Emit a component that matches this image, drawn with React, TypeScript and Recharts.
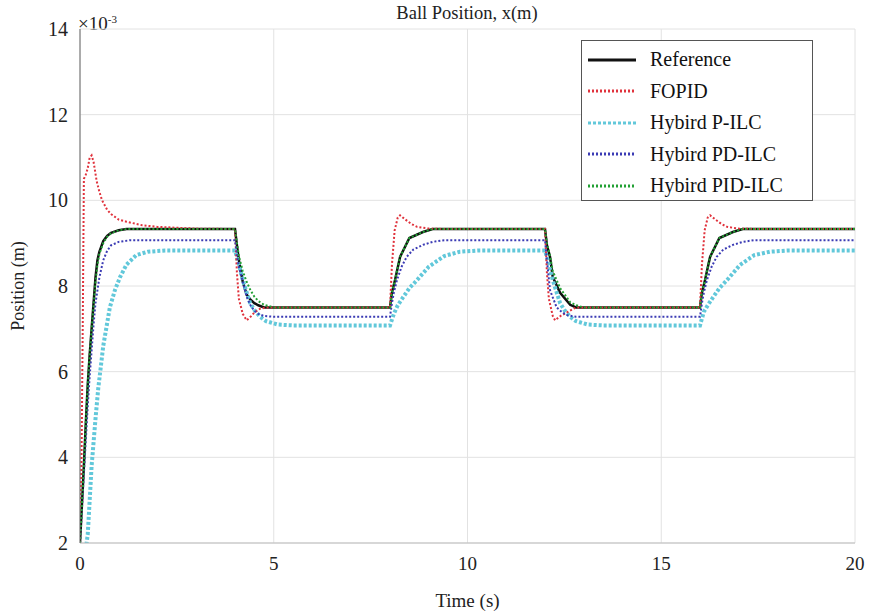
import {
  CartesianGrid,
  Legend,
  Line,
  LineChart,
  XAxis,
  YAxis,
} from "recharts";

const FONT = '"Liberation Serif", "Times New Roman", serif';

// time (s), position (x1e-3 m)
const referencePoints = [
  [0, 2], [0.05, 2.9], [0.1, 3.8], [0.15, 4.8], [0.2, 5.7], [0.25, 6.4], [0.3, 7.0],
  [0.35, 7.6], [0.4, 8.2], [0.45, 8.6], [0.5, 8.8], [0.6, 9.05], [0.7, 9.17], [0.8, 9.24],
  [1.0, 9.3], [1.2, 9.33], [4.0, 9.33], [4.05, 8.95], [4.1, 8.6], [4.2, 8.1], [4.3, 7.8],
  [4.4, 7.68], [4.5, 7.6], [4.6, 7.55], [4.75, 7.5], [8.0, 7.5], [8.05, 7.85], [8.13, 8.14],
  [8.26, 8.68], [8.5, 9.12], [8.85, 9.26], [9.1, 9.33], [12.0, 9.33], [12.05, 8.95],
  [12.13, 8.68], [12.2, 8.21], [12.39, 7.84], [12.65, 7.56], [12.8, 7.5], [16.0, 7.5],
  [16.05, 7.85], [16.13, 8.14], [16.26, 8.68], [16.5, 9.12], [16.85, 9.26], [17.1, 9.33],
  [20, 9.33],
];

const fopidPoints = [
  [0, 2], [0.04, 4], [0.07, 7], [0.1, 10.5], [0.15, 10.6], [0.2, 10.75], [0.25, 11.0],
  [0.3, 11.05], [0.35, 10.9], [0.43, 10.45], [0.5, 10.2], [0.57, 10.0], [0.7, 9.78],
  [0.8, 9.68], [1.0, 9.55], [1.2, 9.5], [1.6, 9.42], [2.0, 9.38], [3.0, 9.34], [4.0, 9.33],
  [4.05, 8.3], [4.1, 7.7], [4.2, 7.35], [4.3, 7.2], [4.4, 7.28], [4.5, 7.38], [4.65, 7.47],
  [4.8, 7.5], [8.0, 7.5], [8.05, 8.5], [8.12, 9.3], [8.2, 9.6], [8.26, 9.65], [8.4, 9.55],
  [8.55, 9.45], [8.7, 9.38], [9.0, 9.34], [9.5, 9.33], [12.0, 9.33], [12.05, 8.3],
  [12.1, 7.7], [12.2, 7.3], [12.26, 7.2], [12.4, 7.3], [12.6, 7.4], [12.8, 7.5], [16.0, 7.5],
  [16.05, 8.5], [16.12, 9.3], [16.2, 9.6], [16.26, 9.65], [16.4, 9.55], [16.55, 9.45],
  [16.7, 9.38], [17.0, 9.34], [17.5, 9.33], [20, 9.33],
];

const pIlcPoints = [
  [0, 0.8], [0.2, 2.2], [0.3, 3.8], [0.4, 4.9], [0.47, 5.6], [0.6, 6.6], [0.77, 7.5],
  [0.9, 7.9], [1.03, 8.2], [1.2, 8.5], [1.45, 8.72], [1.75, 8.8], [2.2, 8.83], [4.0, 8.83],
  [4.1, 8.5], [4.2, 8.14], [4.3, 7.85], [4.39, 7.6], [4.5, 7.44], [4.65, 7.28], [4.8, 7.18],
  [5.1, 7.1], [5.5, 7.08], [8.0, 7.08], [8.1, 7.35], [8.2, 7.55], [8.34, 7.74], [8.5, 7.95],
  [8.7, 8.14], [9.0, 8.45], [9.4, 8.7], [9.8, 8.8], [10.3, 8.83], [12.0, 8.83], [12.1, 8.5],
  [12.2, 8.14], [12.3, 7.85], [12.39, 7.6], [12.5, 7.44], [12.65, 7.28], [12.8, 7.18],
  [13.1, 7.1], [13.5, 7.08], [16.0, 7.08], [16.1, 7.4], [16.2, 7.55], [16.34, 7.74],
  [16.5, 7.95], [16.7, 8.14], [17.03, 8.49], [17.4, 8.72], [17.8, 8.8], [18.3, 8.83],
  [20, 8.83],
];

const pdIlcPoints = [
  [0, 2], [0.05, 2.8], [0.1, 3.6], [0.15, 4.4], [0.2, 5.2], [0.25, 5.9], [0.3, 6.5],
  [0.35, 7.1], [0.4, 7.6], [0.5, 8.2], [0.6, 8.6], [0.7, 8.82], [0.8, 8.95], [1.0, 9.03],
  [1.3, 9.07], [4.0, 9.07], [4.05, 8.75], [4.1, 8.45], [4.2, 8.1], [4.3, 7.75], [4.4, 7.55],
  [4.5, 7.42], [4.6, 7.35], [4.75, 7.3], [5.0, 7.28], [8.0, 7.28], [8.05, 7.6], [8.1, 7.85],
  [8.18, 8.14], [8.3, 8.45], [8.43, 8.68], [8.6, 8.85], [8.85, 8.96], [9.1, 9.03],
  [9.4, 9.07], [12.0, 9.07], [12.05, 8.6], [12.13, 7.9], [12.3, 7.5], [12.45, 7.38],
  [12.57, 7.32], [12.8, 7.28], [16.0, 7.28], [16.05, 7.6], [16.1, 7.85], [16.18, 8.14],
  [16.3, 8.45], [16.43, 8.68], [16.6, 8.85], [16.85, 8.96], [17.1, 9.03], [17.4, 9.07],
  [20, 9.07],
];

const pidIlcPoints = [
  [0, 2], [0.05, 2.9], [0.1, 3.8], [0.15, 4.8], [0.2, 5.7], [0.25, 6.4], [0.3, 7.0],
  [0.35, 7.55], [0.4, 8.1], [0.45, 8.5], [0.5, 8.75], [0.6, 9.0], [0.7, 9.15], [0.8, 9.23],
  [1.0, 9.3], [1.2, 9.33], [4.0, 9.33], [4.05, 9.0], [4.1, 8.7], [4.2, 8.35], [4.3, 8.1],
  [4.4, 7.9], [4.5, 7.75], [4.6, 7.65], [4.75, 7.56], [5.0, 7.5], [8.0, 7.5], [8.05, 7.85],
  [8.13, 8.14], [8.26, 8.68], [8.5, 9.12], [8.85, 9.26], [9.1, 9.33], [12.0, 9.33],
  [12.05, 9.0], [12.13, 8.7], [12.2, 8.35], [12.39, 7.95], [12.65, 7.62], [12.8, 7.55],
  [13.0, 7.5], [16.0, 7.5], [16.05, 7.85], [16.13, 8.14], [16.26, 8.68], [16.5, 9.12],
  [16.85, 9.26], [17.1, 9.33], [20, 9.33],
];

const timeTicks = [0, 5, 10, 15, 20];
const positionTicks = [2, 4, 6, 8, 10, 12, 14];

const toRows = (pts: number[][]) => pts.map(([t, v]) => ({ t, v }));

const series = [
  { name: "Reference", data: toRows(referencePoints), color: "#111111", width: 2.5, dash: undefined },
  { name: "FOPID", data: toRows(fopidPoints), color: "#e0323c", width: 2, dash: "2 2" },
  { name: "Hybird P-ILC", data: toRows(pIlcPoints), color: "#62c8da", width: 4, dash: "3 2" },
  { name: "Hybird PD-ILC", data: toRows(pdIlcPoints), color: "#3b3bb4", width: 2, dash: "2 2" },
  { name: "Hybird PID-ILC", data: toRows(pidIlcPoints), color: "#22a034", width: 2, dash: "2 2" },
];

// draw order: thick cyan below the thinner dotted ones
const drawOrder = [0, 2, 1, 3, 4];

function LegendBox() {
  return (
    <div
      style={{
        width: 232,
        height: 161,
        background: "#fff",
        border: "1px solid #555",
        fontFamily: FONT,
        fontSize: 20,
        color: "#111",
        paddingTop: 3,
        boxSizing: "border-box",
      }}
    >
      {series.map((s) => (
        <div key={s.name} style={{ display: "flex", alignItems: "center", height: 31.5 }}>
          <svg width={54} height={10} style={{ marginLeft: 6, marginRight: 8 }}>
            <line
              x1={0}
              y1={5}
              x2={48}
              y2={5}
              stroke={s.color}
              strokeWidth={3}
              strokeDasharray={s.dash}
            />
          </svg>
          <span>{s.name}</span>
        </div>
      ))}
    </div>
  );
}

export default function App() {
  return (
    <div style={{ position: "absolute", left: 0, top: 0, width: 869, height: 612, background: "#fff" }}>
      <div
        style={{
          position: "absolute",
          left: 317,
          top: 3,
          width: 300,
          textAlign: "center",
          fontFamily: FONT,
          fontSize: 18.5,
          color: "#222",
        }}
      >
        Ball Position, x(m)
      </div>
      <div
        style={{
          position: "absolute",
          left: 78,
          top: 9,
          fontFamily: FONT,
          fontSize: 19,
          color: "#222",
          lineHeight: "20px",
        }}
      >
        ×10<sup style={{ fontSize: 11, verticalAlign: "7px" }}>-3</sup>
      </div>
      <LineChart
        width={869}
        height={612}
        margin={{ top: 29, right: 14, left: 0, bottom: 0 }}
        style={{ fontFamily: FONT }}
      >
        <CartesianGrid stroke="#e2e2e2" strokeWidth={1} />
        <XAxis
          dataKey="t"
          type="number"
          domain={[0, 20]}
          ticks={timeTicks}
          height={69}
          tickLine={false}
          tickMargin={8}
          axisLine={{ stroke: "#bdbdbd" }}
          tick={{ fill: "#222", fontSize: 19, fontFamily: FONT }}
          allowDataOverflow
          label={{ value: "Time (s)", position: "insideBottom", offset: 5, fill: "#222", fontSize: 19, fontFamily: FONT }}
        />
        <XAxis xAxisId="top" orientation="top" type="number" domain={[0, 20]} tick={false} tickLine={false} height={0} axisLine={{ stroke: "#777" }} />
        <YAxis
          type="number"
          domain={[2, 14]}
          ticks={positionTicks}
          width={80}
          tickLine={false}
          tickMargin={6}
          axisLine={{ stroke: "#666" }}
          tick={{ fill: "#222", fontSize: 20, fontFamily: FONT }}
          allowDataOverflow
          label={{
            value: "Position (m)",
            angle: -90,
            position: "insideLeft",
            offset: 18,
            style: { textAnchor: "middle" },
            fill: "#222",
            fontSize: 18,
            fontFamily: FONT,
          }}
        />
        <YAxis yAxisId="right" orientation="right" domain={[2, 14]} tick={false} tickLine={false} width={0} axisLine={{ stroke: "#bdbdbd" }} />
        {drawOrder.map((i) => {
          const s = series[i];
          return (
            <Line
              key={s.name}
              data={s.data}
              dataKey="v"
              name={s.name}
              type="linear"
              stroke={s.color}
              strokeWidth={s.width}
              strokeDasharray={s.dash}
              dot={false}
              activeDot={false}
              isAnimationActive={false}
            />
          );
        })}
        <Legend
          layout="vertical"
          align="center"
          verticalAlign="middle"
          content={() => <LegendBox />}
          wrapperStyle={{ left: 581, top: 40, width: 232 }}
        />
      </LineChart>
    </div>
  );
}
